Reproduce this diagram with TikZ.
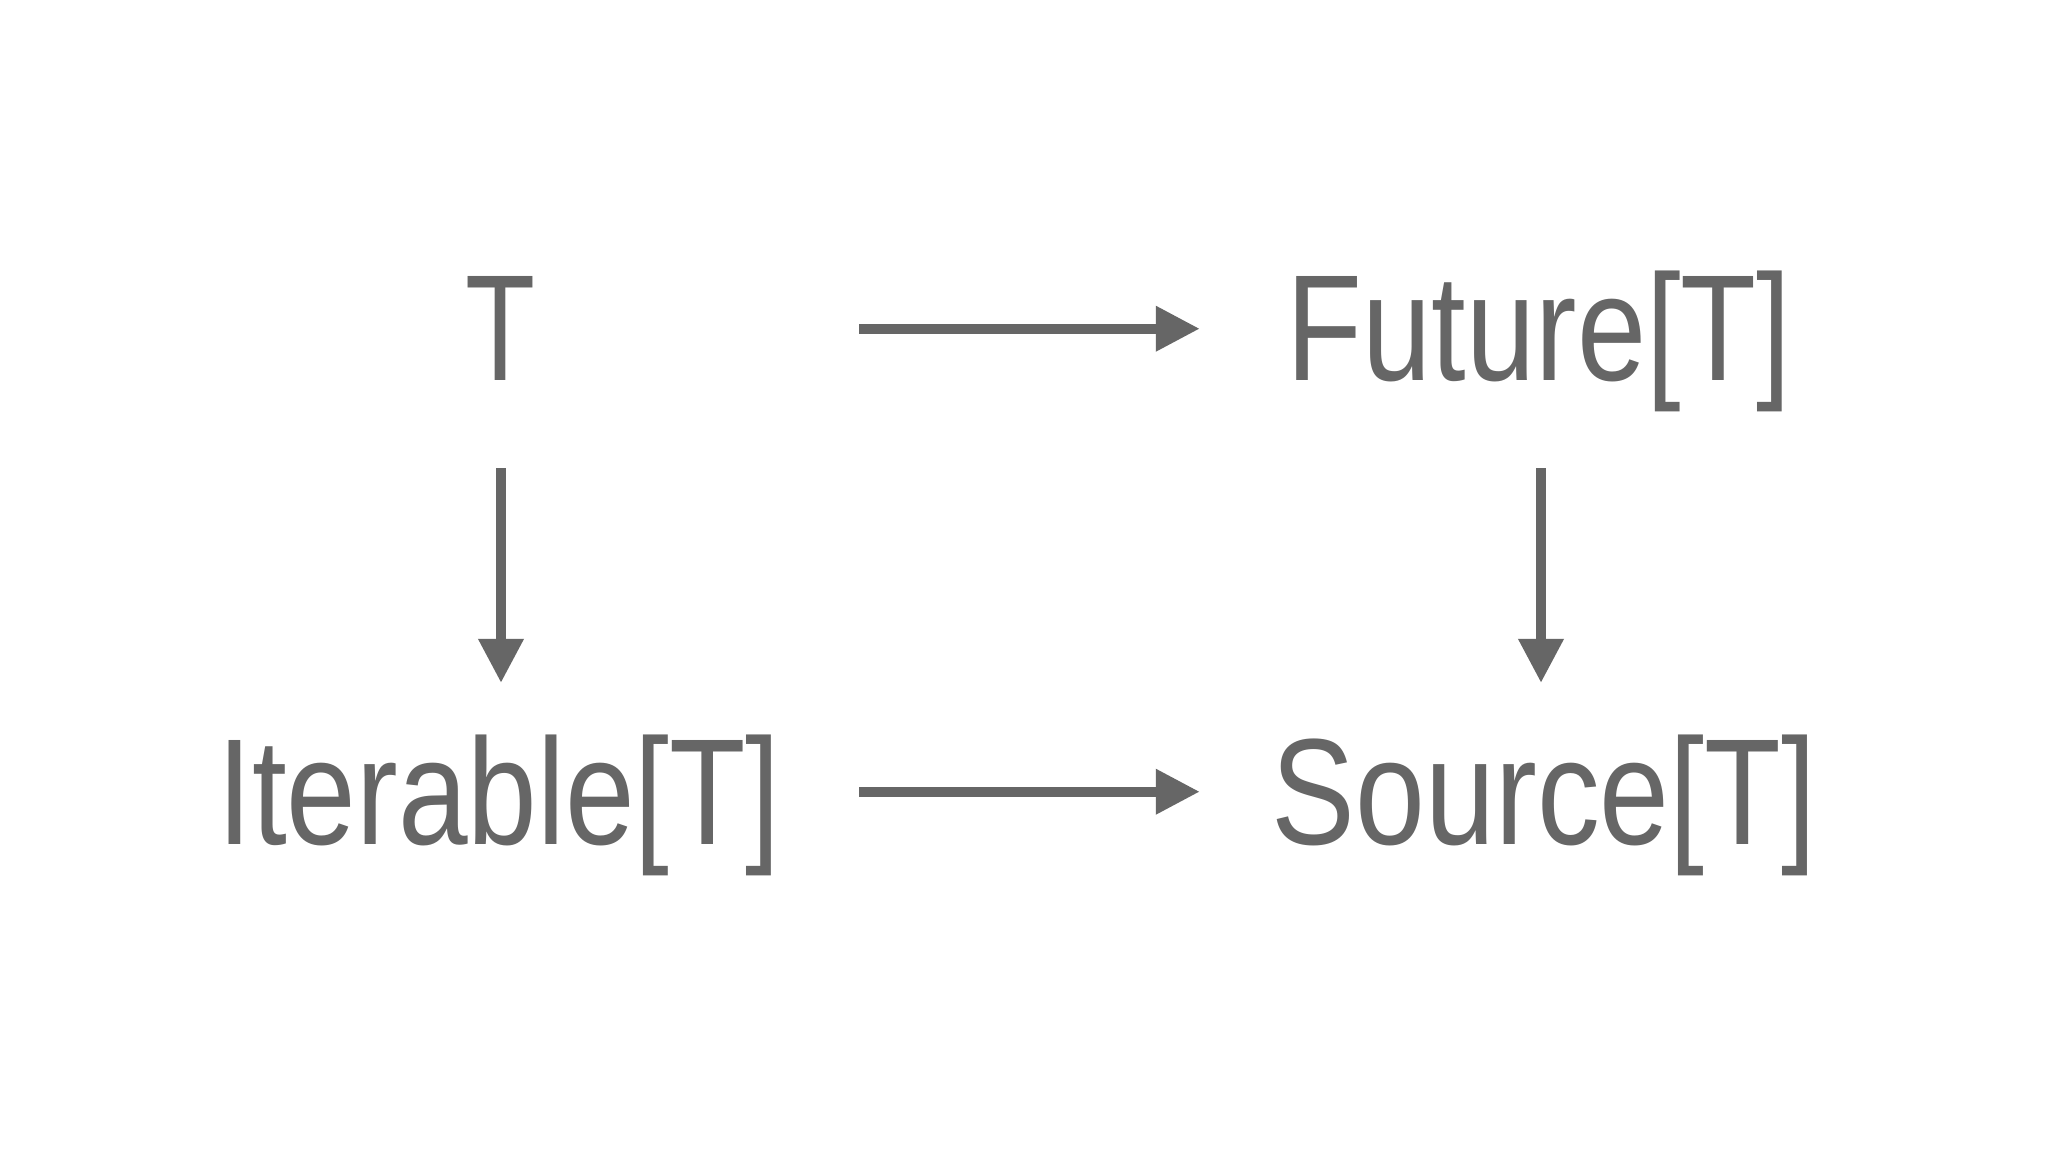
\documentclass[tikz,border=0pt]{standalone}
\usepackage{fontspec}
\setmainfont{Liberation Sans}
\usetikzlibrary{arrows.meta}
\definecolor{ink}{RGB}{102,102,102}
\begin{document}
\begin{tikzpicture}[x=0.01cm,y=-0.01cm,
  lbl/.style={inner sep=0pt, outer sep=0pt, text=ink,
    font=\fontsize{43}{47}\selectfont,
    text height=1.045cm, text depth=0pt, anchor=base},
  arr/.style={draw=ink, line width=0.1cm,
    -{Triangle[length=0.44cm,width=0.43cm]}}]
\fill[white] (0,0) rectangle (2048,1152);
\useasboundingbox (0,0) rectangle (2048,1152);
\node[lbl] (T) at (501,381) {\resizebox{0.70cm}{\height}{T}};
\node[lbl] (F) at (1539,381) {\resizebox{5.04cm}{\height}{Future[T]}};
\node[lbl] (I) at (499,844) {\resizebox{5.63cm}{\height}{Iterable[T]}};
\node[lbl] (S) at (1544,844) {\resizebox{5.44cm}{\height}{Source[T]}};
\draw[arr, shorten <=3.23cm, shorten >=0.87cm] (T.east) -- (F.west);
\draw[arr, shorten <=0.785cm, shorten >=0.72cm] (I.east) -- (S.west);
\draw[arr, shorten <=0.87cm, shorten >=0.565cm] (T.south) -- (T.south |- I.north);
\draw[arr, shorten <=0.87cm, shorten >=0.565cm] ([xshift=0.02cm]F.south) -- ([xshift=0.02cm]F.south |- S.north);
\end{tikzpicture}
\end{document}
